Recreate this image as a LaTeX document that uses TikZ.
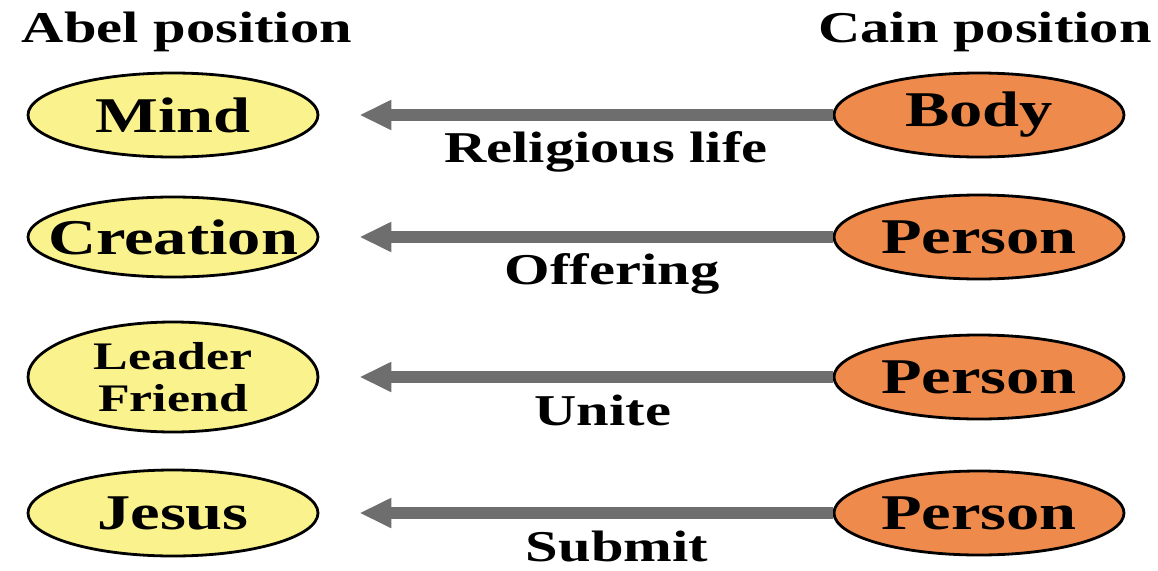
\documentclass[tikz,border=0pt]{standalone}
\usepackage{fontspec}
\setmainfont{Liberation Serif}[FakeStretch=1.33]
\usetikzlibrary{shapes.geometric,arrows.meta,positioning}
\definecolor{abelyellow}{RGB}{250,242,140}
\definecolor{cainorange}{RGB}{238,138,76}
\definecolor{arrowgray}{RGB}{110,110,110}

\begin{document}
\begin{tikzpicture}[x=1pt,y=-1pt,
    abel/.style={ellipse,draw=black,line width=2.8pt,fill=abelyellow,minimum width=290pt,minimum height=84pt,inner sep=0pt,font=\bfseries\fontsize{50}{50}\selectfont},
    cain/.style={abel,fill=cainorange},
    pull/.style={-{Triangle[length=32pt,width=28pt]},line width=12pt,draw=arrowgray},
    why/.style={font=\bfseries\fontsize{44}{44}\selectfont,anchor=base}]
    \useasboundingbox (0,0) rectangle (1158,570);

    % Headings
    \node[why] (abelhead) at (187,42) {Abel position};
    \node[why] (cainhead) at (985,42) {Cain position};

    % Abel side
    \node[abel] (mind) at (173,115) {Mind};
    \node[abel,minimum height=80pt,inner xsep=-29pt] (creation) at (173,237) {Creation};
    \node[abel,minimum height=110pt,align=center,font=\bfseries\fontsize{39}{42}\selectfont] (leader) at (173,377) {Leader\\Friend};
    \node[abel,minimum height=86pt] (jesus) at (173,513) {Jesus};

    % Cain side
    \node[cain] (body) at (979,115) {Body};
    \node[cain] (person1) at (979,237) {Person};
    \node[cain] (person2) at (979,377) {Person};
    \node[cain] (person3) at (979,513) {Person};

    % Arrows
    \draw[pull] (body.west) -- ([xshift=40pt]mind.east);
    \draw[pull] (person1.west) -- ([xshift=40pt]creation.east);
    \draw[pull] (person2.west) -- ([xshift=40pt]leader.east);
    \draw[pull] (person3.west) -- ([xshift=40pt]jesus.east);

    % Labels
    \node[why] (religious) at (606,162) {Religious life};
    \node[why] (offering) at (612,284) {Offering};
    \node[why] (unite) at (603,425) {Unite};
    \node[why] (submit) at (617,561) {Submit};
\end{tikzpicture}
\end{document}
